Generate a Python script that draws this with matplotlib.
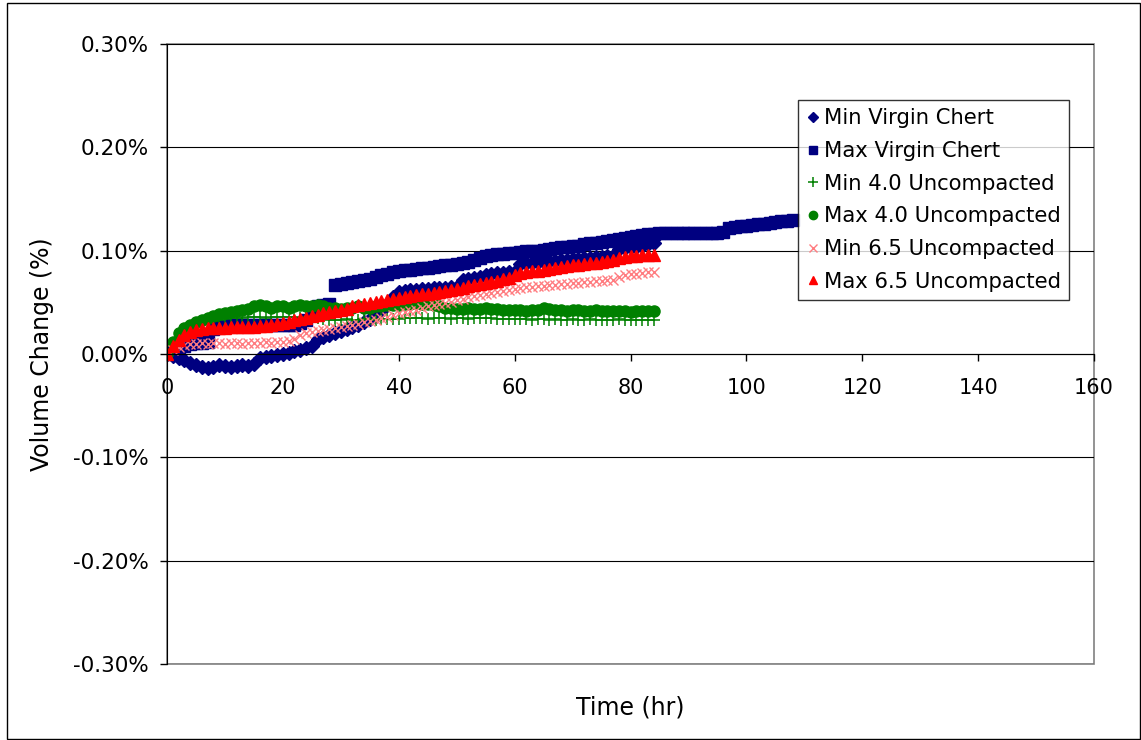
import numpy as np
import matplotlib
matplotlib.use("Agg")
from matplotlib import pyplot as plt
from matplotlib.patches import Rectangle
from matplotlib.ticker import FuncFormatter

# time in hours (hourly readings)
t_84 = np.arange(0, 85)
t_108 = np.arange(0, 109)

# volume change in %
min_virgin = [0.000, -0.002, -0.004, -0.006, -0.009, -0.011, -0.013, -0.014, -0.013, -0.011,
              -0.012, -0.013, -0.012, -0.011, -0.012, -0.010, -0.004, -0.003, -0.002, -0.001,
              0.000, 0.001, 0.003, 0.004, 0.006, 0.008, 0.015, 0.016, 0.018, 0.020,
              0.022, 0.024, 0.026, 0.028, 0.031, 0.034, 0.037, 0.042, 0.048, 0.055,
              0.060, 0.061, 0.062, 0.062, 0.063, 0.063, 0.064, 0.064, 0.064, 0.065,
              0.065, 0.072, 0.073, 0.074, 0.075, 0.076, 0.077, 0.078, 0.078, 0.079,
              0.079, 0.087, 0.088, 0.088, 0.089, 0.089, 0.090, 0.090, 0.091, 0.091,
              0.092, 0.092, 0.093, 0.093, 0.094, 0.094, 0.095, 0.095, 0.102, 0.103,
              0.104, 0.104, 0.105, 0.106, 0.107]

max_virgin = [0.000, 0.003, 0.005, 0.008, 0.010, 0.011, 0.011, 0.012, 0.024, 0.026,
              0.027, 0.028, 0.028, 0.028, 0.028, 0.028, 0.028, 0.028, 0.028, 0.028,
              0.028, 0.028, 0.028, 0.030, 0.033, 0.040, 0.046, 0.047, 0.048, 0.067,
              0.068, 0.069, 0.070, 0.071, 0.072, 0.073, 0.075, 0.076, 0.077, 0.079,
              0.080, 0.081, 0.081, 0.082, 0.083, 0.083, 0.084, 0.085, 0.086, 0.086,
              0.087, 0.088, 0.089, 0.091, 0.093, 0.095, 0.096, 0.097, 0.097, 0.098,
              0.098, 0.099, 0.100, 0.100, 0.100, 0.101, 0.102, 0.103, 0.104, 0.104,
              0.105, 0.105, 0.106, 0.107, 0.107, 0.108, 0.109, 0.110, 0.111, 0.112,
              0.113, 0.114, 0.115, 0.116, 0.116, 0.117, 0.117, 0.117, 0.117, 0.117,
              0.117, 0.117, 0.117, 0.117, 0.117, 0.117, 0.118, 0.122, 0.123, 0.124,
              0.124, 0.125, 0.126, 0.126, 0.127, 0.128, 0.129, 0.129, 0.130]

min_40 = [0.000, 0.008, 0.015, 0.020, 0.024, 0.027, 0.029, 0.031, 0.032, 0.033,
          0.034, 0.035, 0.035, 0.035, 0.036, 0.036, 0.036, 0.035, 0.036, 0.036,
          0.036, 0.036, 0.036, 0.035, 0.036, 0.036, 0.035, 0.034, 0.033, 0.033,
          0.033, 0.034, 0.033, 0.033, 0.034, 0.034, 0.033, 0.034, 0.034, 0.034,
          0.034, 0.035, 0.035, 0.035, 0.035, 0.034, 0.035, 0.035, 0.035, 0.034,
          0.035, 0.035, 0.034, 0.035, 0.035, 0.035, 0.035, 0.034, 0.034, 0.034,
          0.034, 0.034, 0.034, 0.033, 0.034, 0.034, 0.033, 0.034, 0.033, 0.033,
          0.034, 0.033, 0.033, 0.034, 0.033, 0.033, 0.033, 0.033, 0.034, 0.033,
          0.033, 0.033, 0.033, 0.033, 0.033]

max_40 = [0.000, 0.012, 0.020, 0.025, 0.028, 0.031, 0.033, 0.035, 0.037, 0.039,
          0.040, 0.041, 0.042, 0.043, 0.044, 0.046, 0.047, 0.046, 0.045, 0.046,
          0.046, 0.045, 0.046, 0.047, 0.046, 0.046, 0.047, 0.046, 0.045, 0.045,
          0.044, 0.045, 0.045, 0.046, 0.045, 0.045, 0.046, 0.046, 0.047, 0.047,
          0.047, 0.048, 0.048, 0.049, 0.048, 0.048, 0.047, 0.046, 0.045, 0.045,
          0.044, 0.044, 0.045, 0.044, 0.044, 0.045, 0.044, 0.044, 0.043, 0.043,
          0.043, 0.043, 0.042, 0.043, 0.043, 0.045, 0.044, 0.043, 0.043, 0.042,
          0.043, 0.043, 0.042, 0.042, 0.043, 0.042, 0.042, 0.042, 0.042, 0.042,
          0.041, 0.042, 0.042, 0.042, 0.042]

min_65 = [0.000, 0.004, 0.007, 0.009, 0.010, 0.010, 0.011, 0.010, 0.011, 0.011,
          0.010, 0.011, 0.011, 0.010, 0.011, 0.011, 0.011, 0.012, 0.011, 0.012,
          0.012, 0.013, 0.015, 0.018, 0.020, 0.021, 0.022, 0.023, 0.024, 0.025,
          0.026, 0.027, 0.028, 0.029, 0.031, 0.032, 0.033, 0.035, 0.036, 0.038,
          0.040, 0.041, 0.042, 0.043, 0.045, 0.046, 0.047, 0.048, 0.049, 0.050,
          0.052, 0.053, 0.055, 0.056, 0.057, 0.058, 0.059, 0.060, 0.061, 0.062,
          0.063, 0.064, 0.065, 0.065, 0.066, 0.066, 0.067, 0.067, 0.068, 0.068,
          0.069, 0.069, 0.070, 0.070, 0.071, 0.071, 0.072, 0.072, 0.075, 0.076,
          0.077, 0.077, 0.078, 0.079, 0.079]

max_65 = [0.000, 0.008, 0.014, 0.018, 0.021, 0.023, 0.024, 0.025, 0.025, 0.025,
          0.025, 0.026, 0.026, 0.026, 0.026, 0.026, 0.027, 0.027, 0.028, 0.029,
          0.030, 0.031, 0.033, 0.034, 0.035, 0.037, 0.038, 0.040, 0.041, 0.042,
          0.043, 0.044, 0.046, 0.047, 0.048, 0.049, 0.050, 0.051, 0.052, 0.053,
          0.054, 0.055, 0.056, 0.057, 0.058, 0.058, 0.059, 0.060, 0.061, 0.062,
          0.063, 0.064, 0.066, 0.067, 0.068, 0.069, 0.070, 0.071, 0.073, 0.074,
          0.076, 0.078, 0.079, 0.080, 0.080, 0.081, 0.082, 0.083, 0.084, 0.085,
          0.086, 0.086, 0.087, 0.088, 0.088, 0.089, 0.090, 0.091, 0.093, 0.094,
          0.095, 0.095, 0.096, 0.096, 0.096]

fig = plt.figure(figsize=(11.41, 7.40), dpi=100)
ax = fig.add_axes([0.1464, 0.1027, 0.8124, 0.8378])

ax.plot(t_84, min_virgin, ls="none", marker="D", ms=7, color="#000080", label="Min Virgin Chert")
ax.plot(t_108, max_virgin, ls="none", marker="s", ms=8.5, color="#000080", label="Max Virgin Chert")
ax.plot(t_84, min_40, ls="none", marker="+", ms=9, mew=1.1, color="#008000", label="Min 4.0 Uncompacted")
ax.plot(t_84, max_40, ls="none", marker="o", ms=8, color="#008000", label="Max 4.0 Uncompacted")
ax.plot(t_84, min_65, ls="none", marker="x", ms=7.5, mew=1.0, color="#FF7C80", label="Min 6.5 Uncompacted")
ax.plot(t_84, max_65, ls="none", marker="^", ms=8, color="#FF0000", label="Max 6.5 Uncompacted")

ax.set_xlim(0, 160)
ax.set_ylim(-0.3, 0.3)
ax.set_xticks([0, 20, 40, 60, 80, 100, 120, 140, 160])
ax.set_yticks([-0.3, -0.2, -0.1, 0.0, 0.1, 0.2, 0.3])
ax.yaxis.set_major_formatter(FuncFormatter(lambda v, p: "%.2f%%" % v))

ax.set_axisbelow(True)
ax.grid(axis="y", color="black", lw=0.8)
ax.grid(axis="x", visible=False)

# plot area border in grey, axes lines in black
ax.add_patch(Rectangle((0, 0), 1, 1, transform=ax.transAxes, fill=False,
                       edgecolor="#808080", lw=1.2, clip_on=False, zorder=0.5))
ax.spines["top"].set_visible(False)
ax.spines["right"].set_visible(False)
ax.spines["bottom"].set_position(("data", 0))
ax.spines["left"].set_color("black")
ax.spines["bottom"].set_color("black")

ax.tick_params(axis="y", direction="out", length=5, width=1, pad=8, labelsize=15.5, colors="black")
ax.tick_params(axis="x", direction="out", length=5, width=1, pad=12, labelsize=15, colors="black")

ax.set_xlabel("Time (hr)", fontsize=17)
ax.xaxis.set_label_coords(0.5, -0.05)
ax.set_ylabel("Volume Change (%)", fontsize=17)
ax.yaxis.set_label_coords(-0.122, 0.5)

leg = ax.legend(loc="upper left", bbox_to_anchor=(0.681, 0.910), borderaxespad=0,
                fontsize=15.2, frameon=True, fancybox=False, edgecolor="black",
                handlelength=0.6, handletextpad=0.2, labelspacing=0.6,
                borderpad=0.4, numpoints=1, markerscale=0.75)
leg.get_frame().set_linewidth(1.0)

# outer chart frame
fig.patches.append(Rectangle((0.006, 0.002), 0.993, 0.994, transform=fig.transFigure,
                             fill=False, edgecolor="black", lw=1.0))

fig.savefig("out.png", dpi=100)
